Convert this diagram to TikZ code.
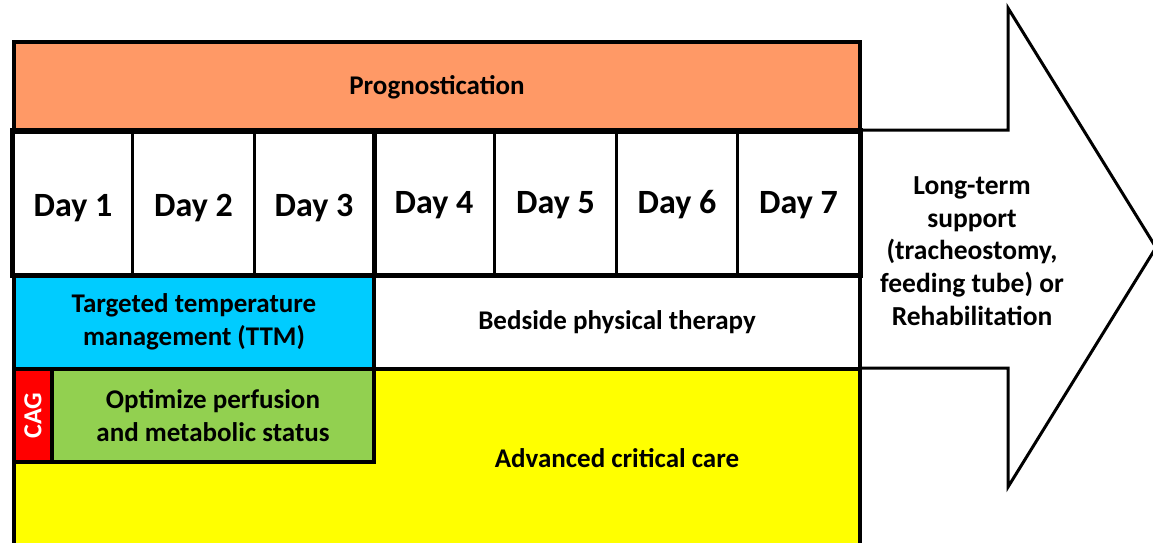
\documentclass[tikz,border=0pt]{standalone}
\usepackage{fontspec}
\setmainfont{Carlito}
\definecolor{progc}{RGB}{255,153,102}
\definecolor{ttmc}{RGB}{0,204,255}
\definecolor{greenc}{RGB}{146,208,80}
\definecolor{yelc}{RGB}{255,255,0}
\definecolor{cagc}{RGB}{255,0,0}
\begin{document}
\begin{tikzpicture}[x=1pt,y=-1pt,
  box/.style={draw=black,line width=4pt,rectangle,anchor=north west,inner sep=0pt,
    font=\fontsize{27}{32.5}\selectfont\bfseries,align=center},
  lbl/.style={font=\fontsize{27}{32.5}\selectfont\bfseries,align=center,inner sep=0pt},
  daybox/.style={draw=black,line width=3pt,rectangle,anchor=north west,inner sep=0pt,
    minimum width=121pt,minimum height=143pt},
  daytext/.style={font=\fontsize{34}{38}\selectfont\bfseries},
  arrowline/.style={draw=black,line width=3pt,fill=white,line join=miter}]
\useasboundingbox (0,0) rectangle (1153,543);
% arrow
\draw[arrowline] (858,130) -- (1008,130) -- (1008,8) -- (1156,247.5) -- (1008,487) -- (1008,368) -- (858,368);
\node[font=\fontsize{27.5}{32.7}\selectfont\bfseries,align=center] (lt) at (972,251)
  {Long-term\\support\\(tracheostomy,\\feeding tube) or\\Rehabilitation};
% bottom yellow
\node[box,fill=yelc,minimum width=846pt,minimum height=183pt] (acc) at (12,367) {};
\node[lbl] (acct) at (617,458) {Advanced critical care};
% prognostication
\node[box,fill=progc,minimum width=846pt,minimum height=90pt] (prog) at (12,40) {Prognostication};
% days
\node[daybox,minimum width=119pt] (d1) at (12,130) {};
\node[daybox,minimum width=122pt] (d2) at (131,130) {};
\node[daybox,minimum width=119pt] (d3) at (253,130) {};
\node[daybox] (d4) at (372,130) {};
\node[daybox,minimum width=122pt] (d5) at (493,130) {};
\node[daybox] (d6) at (615,130) {};
\node[daybox,minimum width=122pt] (d7) at (736,130) {};
\foreach \n/\t/\dy in {d1/Day 1/5,d2/Day 2/5,d3/Day 3/5,d4/Day 4/2,d5/Day 5/2,d6/Day 6/2,d7/Day 7/2}
  \node[daytext,yshift=-\dy pt] (\n t) at (\n.center) {\t};
% ttm / bedside
\node[box,fill=ttmc,minimum width=360pt,minimum height=94pt] (ttm) at (12,273) {Targeted temperature\\management (TTM)};
\node[box,fill=white,minimum width=486pt,minimum height=94pt] (bed) at (372,273) {Bedside physical therapy};
% green and CAG
\node[box,fill=greenc,minimum width=322pt,minimum height=93pt] (opt) at (50,367) {Optimize perfusion\\and metabolic status};
\node[box,fill=cagc,minimum width=38pt,minimum height=93pt] (cag) at (12,367) {};
\node[rotate=90,text=white,font=\fontsize{26}{30}\selectfont\bfseries] (cagt) at (cag.center) {CAG};
% outer thick borders
\draw[line width=4pt] (d1.north west) rectangle (d7.south east);
\draw[line width=4pt] (d3.north east) -- (d3.south east);
\end{tikzpicture}
\end{document}
